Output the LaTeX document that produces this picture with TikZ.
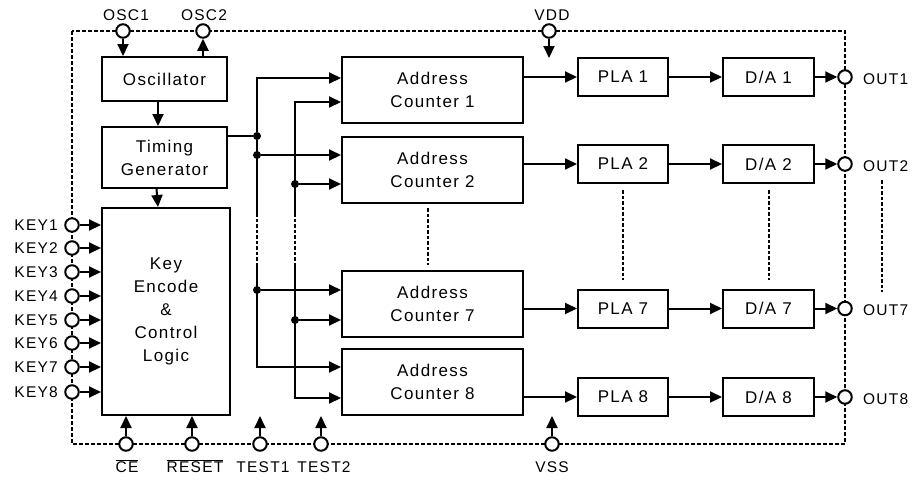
\documentclass[tikz,border=0pt]{standalone}
\usepackage{fontspec}
\setmainfont{Liberation Sans}[LetterSpace=8]
\usetikzlibrary{arrows.meta}
\newcommand\ovlbar[1]{$\overline{\hbox{#1}}$}
\begin{document}
\begin{tikzpicture}[x=1pt,y=-1pt,
  box/.style={draw, line width=2pt, align=center, font=\fontsize{17}{23}\selectfont, inner sep=0pt},
  pinc/.style={circle, draw, fill=white, line width=2pt, minimum size=13.5pt, inner sep=0pt},
  plab/.style={font=\fontsize{15.5}{18}\selectfont, inner sep=0pt},
  conn/.style={line width=2pt},
  arr/.style={conn, -{Triangle[length=12pt,width=11pt]}},
  dotc/.style={circle, fill, minimum size=8pt, inner sep=0pt},
  sepline/.style={line width=1.9pt, dash pattern=on 3.5pt off 2pt},
  border/.style={line width=1.6pt, dash pattern=on 4pt off 2pt}]
\useasboundingbox (0,0) rectangle (915,480);

% border
\draw[border] (72,31) rectangle (845,444);

% boxes
\node[box, minimum width=125pt, minimum height=44pt] (osc) at (164.5,79) {Oscillator};
\node[box, minimum width=125pt, minimum height=61pt] (tim) at (164.5,157.5) {Timing\\Generator};
\node[box, minimum width=128pt, minimum height=207pt] (key) at (166,311.5) {Key\\Encode\\\&\\Control\\Logic};

\tikzset{acbox/.style={box, minimum width=181pt, minimum height=66pt},
         plabox/.style={box, minimum width=90pt, minimum height=38pt},
         dabox/.style={box, minimum width=91pt, minimum height=38pt}}
\node[acbox] (ac1) at (432.5,90) {Address\\Counter 1};
\node[acbox] (ac2) at (432.5,170) {Address\\Counter 2};
\node[acbox] (ac7) at (432.5,303.5) {Address\\Counter 7};
\node[acbox] (ac8) at (432.5,381.5) {Address\\Counter 8};

\node[plabox] (pla1) at (623,77) {PLA 1};
\node[plabox] (pla2) at (623,164) {PLA 2};
\node[plabox] (pla7) at (623,308.5) {PLA 7};
\node[plabox] (pla8) at (623,397) {PLA 8};

\node[dabox] (da1) at (768.5,77) {D/A 1};
\node[dabox] (da2) at (768.5,164) {D/A 2};
\node[dabox] (da7) at (768.5,308.5) {D/A 7};
\node[dabox] (da8) at (768.5,397) {D/A 8};

% pins
\node[pinc] (osc1) at (123,31) {};
\node[pinc] (osc2) at (203,31) {};
\node[pinc] (vdd) at (549,31) {};
\node[pinc] (vss) at (552,444) {};
\node[pinc] (ce) at (126,444) {};
\node[pinc] (reset) at (192,444) {};
\node[pinc] (test1) at (260,444) {};
\node[pinc] (test2) at (321,444) {};
\foreach \i/\y in {1/225,2/248,3/272,4/296,5/320,6/343,7/367,8/392}{
  \node[pinc] (key\i) at (72,\y) {};
  \node[plab, anchor=east] (keyl\i) at (58,\y) {KEY\i};
  \draw[arr] (key\i.east) -- (key\i.east -| key.west);
}
\node[pinc] (out1) at (845,77) {};
\node[pinc] (out2) at (845,164) {};
\node[pinc] (out7) at (845,308.5) {};
\node[pinc] (out8) at (845,397) {};

% pin labels
\node[plab] (losc1) at (126,15) {OSC1};
\node[plab] (losc2) at (204,15) {OSC2};
\node[plab] (lvdd) at (552,15) {VDD};
\node[plab] (lvss) at (552,467) {VSS};
\node[plab] (lce) at (127,466) {\ovlbar{CE}};
\node[plab] (lreset) at (195,466) {\ovlbar{RESET}};
\node[plab] (ltest1) at (263,467) {TEST1};
\node[plab] (ltest2) at (324,467) {TEST2};
\node[plab, anchor=west] (lout1) at (863,79) {OUT1};
\node[plab, anchor=west] (lout2) at (863,166) {OUT2};
\node[plab, anchor=west] (lout7) at (863,310) {OUT7};
\node[plab, anchor=west] (lout8) at (863,399) {OUT8};

% pin connectors
\draw[arr] (osc1.south) -- (osc1.south |- osc.north);
\draw[arr] (osc2.south |- osc.north) -- (osc2.south);
\coordinate (vddend) at (549,58);
\draw[arr] (vdd.south) -- (vddend);
\coordinate (vssend) at (552,416);
\draw[arr] (vss.north) -- (vssend);
\draw[arr] (ce.north) -- (ce.north |- key.south);
\draw[arr] (reset.north) -- (reset.north |- key.south);
\coordinate (t1end) at (260,416);
\coordinate (t2end) at (321,416);
\draw[arr] (test1.north) -- (t1end);
\draw[arr] (test2.north) -- (t2end);

% internal
\draw[arr] ([xshift=-6.5pt]osc.south) -- ([xshift=-6.5pt]tim.north);
\draw[arr] ([xshift=-8pt]tim.south) -- ([xshift=-8pt]key.north);

\node[dotc] (j1) at (257,136) {};
\node[dotc] (j2) at (257,155) {};
\node[dotc] (j3) at (257,290) {};
\node[dotc] (j4) at (295,184) {};
\node[dotc] (j5) at (295,320) {};
\coordinate (b1top) at (257,78);
\coordinate (b1d1) at (257,213);
\coordinate (b1d2) at (257,265);
\coordinate (b1bot) at (257,367);
\coordinate (b2top) at (295,102);
\coordinate (b2d1) at (295,213);
\coordinate (b2d2) at (295,265);
\coordinate (b2bot) at (295,398);

\draw[conn] (tim.east |- j1) -- (j1);
\draw[arr] (j1) -- (b1top) -- (b1top -| ac1.west);
\draw[conn] (j1) -- (b1d1);
\draw[sepline] (b1d1) -- (b1d2);
\draw[arr] (b1d2) -- (b1bot) -- (b1bot -| ac8.west);
\draw[arr] (j2) -- (j2 -| ac2.west);
\draw[arr] (j3) -- (j3 -| ac7.west);
\draw[arr] (b2d1) -- (b2top) -- (b2top -| ac1.west);
\draw[sepline] (b2d1) -- (b2d2);
\draw[arr] (b2d2) -- (b2bot) -- (b2bot -| ac8.west);
\draw[arr] (j4) -- (j4 -| ac2.west);
\draw[arr] (j5) -- (j5 -| ac7.west);

\foreach \k in {1,2,7,8}{
  \draw[arr] (ac\k.east |- pla\k.west) -- (pla\k.west);
  \draw[arr] (pla\k.east) -- (da\k.west);
  \draw[arr] (da\k.east) -- (out\k.west);
}

% continuation marks
\draw[sepline] (428,208) -- (428,265);
\draw[sepline] (623,190) -- (623,280);
\draw[sepline] (769,190) -- (769,280);
\draw[sepline] (882,180) -- (882,292);
\end{tikzpicture}
\end{document}
